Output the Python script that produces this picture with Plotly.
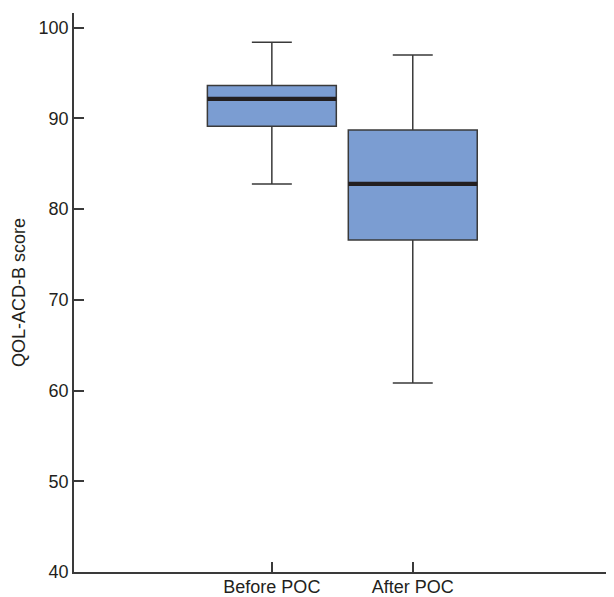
import plotly.graph_objects as go

categories = ["Before POC", "After POC"]
lower_whisker = [82.76, 60.82]
q1_values = [89.12, 76.58]
medians = [92.13, 82.76]
q3_values = [93.6, 88.71]
upper_whisker = [98.38, 96.98]
y_ticks = [40, 50, 60, 70, 80, 90, 100]

FILL = "#7b9dd2"
EDGE = "#3a3a3a"
MED = "#231f20"
FONT = dict(family="Liberation Sans, Arial, sans-serif", size=18, color="#231f20")
BOX_W = 0.915

positions = list(range(len(categories)))

fig = go.Figure()
fig.add_trace(go.Box(
    x=positions,
    q1=q1_values, median=medians, q3=q3_values,
    lowerfence=lower_whisker, upperfence=upper_whisker,
    width=BOX_W, whiskerwidth=0.31,
    fillcolor=FILL, line=dict(color=EDGE, width=1.5),
    boxpoints=False, showlegend=False, hoverinfo="skip",
))
for p, m in zip(positions, medians):
    fig.add_trace(go.Scatter(
        x=[p - BOX_W / 2, p + BOX_W / 2], y=[m, m], mode="lines",
        line=dict(color=MED, width=4.3), showlegend=False, hoverinfo="skip",
    ))

# page body has an 8px margin, so the figure is offset by 8px
fig.update_layout(
    width=606, height=589,
    margin=dict(l=66, r=0, t=5, b=25, autoexpand=False),
    paper_bgcolor="white", plot_bgcolor="white",
    font=FONT,
)
fig.update_xaxes(
    range=[-1.404, 2.428], tickvals=positions, ticktext=categories,
    showline=True, linecolor=EDGE, linewidth=1.5,
    ticks="inside", ticklen=10, tickcolor=EDGE, tickwidth=1.5,
    showgrid=False, zeroline=False, tickfont=FONT, automargin=False,
    ticklabelstandoff=-2,
)
fig.update_yaxes(
    range=[40, 101.6], tickvals=y_ticks,
    showline=True, linecolor=EDGE, linewidth=1.5,
    ticks="inside", ticklen=10, tickcolor=EDGE, tickwidth=1.5,
    showgrid=False, zeroline=False, tickfont=FONT, automargin=False,
    title=dict(text="QOL-ACD-B score", font=FONT, standoff=8),
)
fig.write_html("out.html")
